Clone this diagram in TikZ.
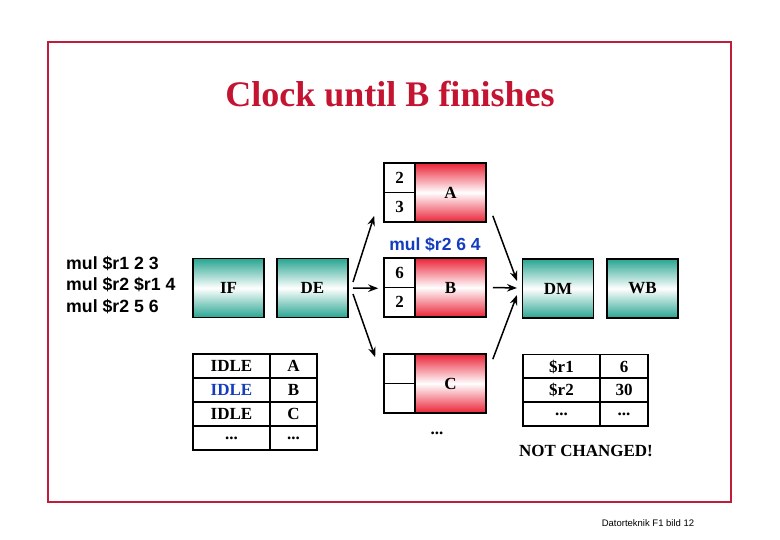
\documentclass[tikz,border=0pt]{standalone}
\usepackage{fontspec}
\setmainfont{Liberation Serif}
\setsansfont{Liberation Sans}
\usetikzlibrary{arrows.meta,calc}
\definecolor{frame}{RGB}{190,30,60}
\definecolor{titlered}{RGB}{195,20,50}
\definecolor{teal1}{RGB}{40,165,145}
\definecolor{red1}{RGB}{235,35,55}
\definecolor{blue1}{RGB}{20,60,190}
\begin{document}
\begin{tikzpicture}[x=1pt,y=-1pt,
  bigfont/.style={font=\bfseries\fontsize{17}{19}\selectfont},
  stagebox/.style={draw=black,line width=1.6pt,minimum width=71pt,minimum height=59pt,inner sep=0pt,
     top color=teal1,bottom color=teal1,middle color=white,bigfont},
  fubox/.style={draw=black,line width=1.6pt,minimum width=71pt,minimum height=59pt,inner sep=0pt,
     top color=red1,bottom color=red1,middle color=white,bigfont},
  opcell/.style={draw=black,line width=1.6pt,minimum width=31pt,minimum height=29.5pt,inner sep=0pt,fill=white,bigfont},
  tcell/.style={draw=black,line width=1.6pt,minimum height=24pt,inner sep=0pt,fill=white,bigfont},
  arr/.style={-{Stealth[length=10pt,width=7.5pt]},line width=1.5pt},
  plain/.style={bigfont,inner sep=0pt}]
\useasboundingbox (0,0) rectangle (780,540);
\fill[white] (0,0) rectangle (780,540);
\draw[frame,line width=1.5pt] (48,42) rectangle (731,502);
\node[text=titlered,font=\bfseries\fontsize{36}{40}\selectfont] (title) at (390,94) {Clock until B finishes};

% program
\node[font=\sffamily\bfseries\fontsize{17.7}{21.5}\selectfont,align=left,anchor=north west,inner sep=0pt] (prog) at (66,256)
  {mul \$r1 2 3\\mul \$r2 \$r1 4\\mul \$r2 5 6};

% stages
\node[stagebox] (IF) at (228.5,288) {IF};
\node[stagebox] (DE) at (312.5,288) {DE};
\node[stagebox] (DM) at (558,288.5) {DM};
\node[stagebox] (WB) at (642.5,288.5) {WB};

% functional units
\node[fubox] (A) at (450.5,192.5) {A};
\node[opcell] (A1) at (399.5,177.75) {2};
\node[opcell] (A2) at (399.5,207.25) {3};
\node[fubox] (B) at (450.5,287.5) {B};
\node[opcell] (B1) at (399.5,272.75) {6};
\node[opcell] (B2) at (399.5,302.25) {2};
\node[fubox] (C) at (450.5,383.5) {C};
\node[opcell] (C1) at (399.5,368.75) {};
\node[opcell] (C2) at (399.5,398.25) {};
\node[plain] (Cdots) at (437,433) {...};
\node[text=blue1,font=\sffamily\bfseries\fontsize{17.5}{20}\selectfont] (Bins) at (435,245) {mul \$r2 6 4};

% IF/DE table
\node[tcell,minimum width=77pt] (t11) at (231.5,366) {IDLE};
\node[tcell,minimum width=47pt] (t12) at (293.5,366) {A};
\node[tcell,minimum width=77pt,text=blue1] (t21) at (231.5,390) {IDLE};
\node[tcell,minimum width=47pt] (t22) at (293.5,390) {B};
\node[tcell,minimum width=77pt] (t31) at (231.5,414) {IDLE};
\node[tcell,minimum width=47pt] (t32) at (293.5,414) {C};
\node[tcell,minimum width=77pt] (t41) at (231.5,438) {...};
\node[tcell,minimum width=47pt] (t42) at (293.5,438) {...};

% register table
\node[tcell,minimum width=77pt] (r11) at (561.5,366.5) {\$r1};
\node[tcell,minimum width=48pt] (r12) at (624,366.5) {6};
\node[tcell,minimum width=77pt] (r21) at (561.5,390) {\$r2};
\node[tcell,minimum width=48pt] (r22) at (624,390) {30};
\node[tcell,minimum width=77pt] (r31) at (561.5,414) {...};
\node[tcell,minimum width=48pt] (r32) at (624,414) {...};
\node[plain] (nc) at (586,451) {NOT CHANGED!};

\node[font=\sffamily\fontsize{9.5}{11}\selectfont] (foot) at (648,523) {Datorteknik F1 bild 12};

% arrows
\coordinate (s1) at (353,282);
\coordinate (s2) at (353,288);
\coordinate (s3) at (353,294);
\draw[arr] (s1) -- ($(A2.south west)+(-9,-7)$);
\draw[arr] (s2) -- ($(B1.south west)+(-5,0)$);
\draw[arr] (s3) -- ($(C1.north west)+(-8,4)$);
\coordinate (d1) at (517,281);
\coordinate (d2) at (517,288);
\coordinate (d3) at (517,295);
\draw[arr] ($(A.south east)+(6,-7)$) -- (d1);
\draw[arr] ($(B.east)+(6,0)$) -- (d2);
\draw[arr] ($(C.north east)+(6,6)$) -- (d3);
\end{tikzpicture}
\end{document}
